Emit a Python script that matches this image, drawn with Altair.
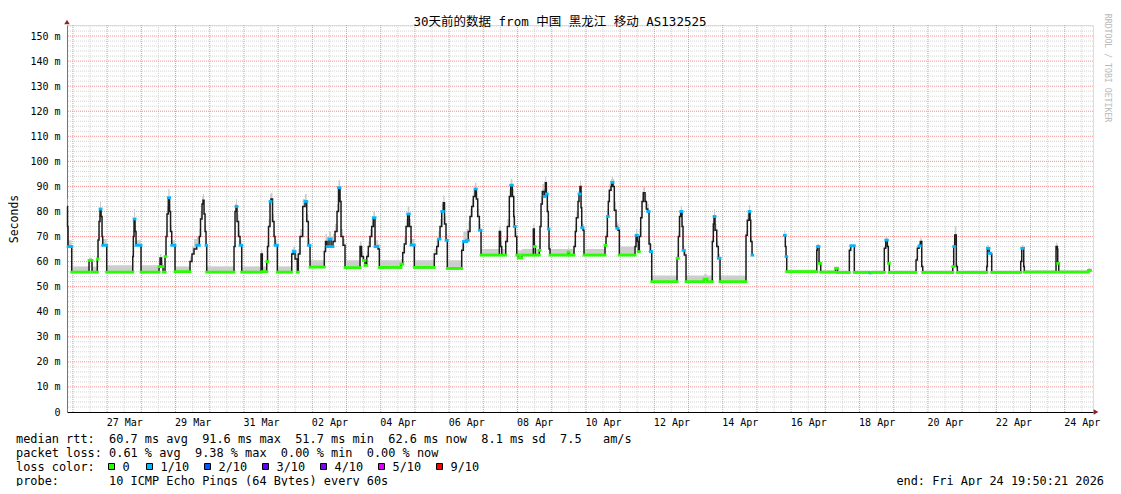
import altair as alt
import pandas as pd

# ---------------- data ----------------
# time: days since 2026-03-25 00:00 UTC ; values: median RTT in ms
T_DAYS = [
    0.828, 0.842, 0.857, 0.965, 1.471, 1.558, 1.713, 1.734, 1.763, 1.792,
    1.822, 1.851, 1.871, 1.988, 2.749, 2.766, 2.787, 2.816, 2.845, 2.991,
    3.518, 3.547, 3.591, 3.635, 3.693, 3.722, 3.751, 3.789, 3.825, 3.854,
    3.889, 3.985, 4.424, 4.482, 4.541, 4.620, 4.696, 4.731, 4.775, 4.804,
    4.833, 4.863, 4.892, 4.912, 5.711, 5.740, 5.769, 5.798, 5.842, 5.886,
    5.936, 6.500, 6.538, 6.667, 6.690, 6.719, 6.763, 6.792, 6.836, 6.880,
    6.909, 6.977, 7.398, 7.444, 7.494, 7.561, 7.591, 7.640, 7.719, 7.787,
    7.836, 7.883, 7.933, 8.351, 8.386, 8.430, 8.488, 8.547, 8.605, 8.664,
    8.722, 8.766, 8.810, 8.839, 8.898, 8.956, 9.395, 9.439, 9.491, 9.541,
    9.591, 9.637, 9.687, 9.737, 9.784, 9.833, 9.921, 9.959, 10.594, 10.643,
    10.690, 10.740, 10.789, 10.836, 10.886, 10.982, 11.567, 11.637, 11.684, 11.734,
    11.784, 11.830, 11.865, 11.909, 11.947, 12.368, 12.415, 12.515, 12.561, 12.611,
    12.661, 12.708, 12.757, 12.795, 12.836, 12.883, 12.933, 13.468, 13.503, 13.538,
    13.655, 13.702, 13.760, 13.801, 13.848, 13.889, 13.906, 13.936, 13.977, 14.023,
    14.123, 14.462, 14.491, 14.520, 14.637, 14.658, 14.687, 14.725, 14.775, 14.813,
    14.842, 14.871, 14.901, 14.921, 14.950, 15.477, 15.506, 15.652, 15.690, 15.719,
    15.769, 15.798, 15.827, 15.857, 15.877, 15.915, 15.944, 16.558, 16.588, 16.626,
    16.655, 16.684, 16.734, 16.754, 16.792, 16.830, 16.880, 16.901, 16.939, 16.977,
    17.436, 17.465, 17.503, 17.532, 17.561, 17.602, 17.640, 17.678, 17.728, 17.766,
    17.807, 17.845, 17.883, 17.924, 18.664, 18.702, 18.737, 18.772, 18.810, 18.839,
    18.877, 18.927, 19.453, 19.541, 19.696, 19.725, 19.746, 19.775, 19.825, 19.871,
    19.921, 20.681, 20.719, 20.769, 20.798, 20.819, 20.857, 20.877, 21.801, 21.830,
    21.851, 21.871, 22.749, 22.766, 22.816, 22.865, 23.298, 23.357, 23.702, 23.743,
    23.848, 24.307, 24.336, 24.725, 24.766, 24.813, 24.842, 24.871, 25.652, 25.690,
    25.740, 25.778, 25.819, 25.848, 26.725, 26.754, 26.784, 26.830, 26.860, 27.719,
    27.737, 27.787, 27.836, 27.865, 28.713, 28.743, 28.781, 28.801, 28.819, 29.746,
    29.784, 29.795, 29.825, 30.690, 30.754,
]

MEDIAN_MS = [
    82.0, 74.0, 66.0, 55.8, 60.5, 55.8, 61.0, 68.6, 76.0, 81.0,
    78.0, 70.0, 66.5, 55.8, 62.0, 70.0, 77.0, 72.0, 66.5, 55.8,
    58.0, 61.4, 58.0, 55.8, 62.0, 70.0, 79.0, 85.5, 80.0, 72.0,
    66.5, 56.0, 60.0, 63.0, 65.0, 66.5, 70.0, 77.0, 83.0, 84.5,
    79.0, 72.0, 66.5, 55.8, 66.0, 80.0, 82.0, 76.0, 70.0, 66.5,
    55.8, 63.0, 56.0, 60.0, 66.0, 74.0, 84.0, 85.0, 76.0, 70.0,
    66.5, 55.8, 63.0, 64.0, 61.0, 55.8, 63.0, 70.0, 82.0, 84.0,
    76.0, 66.5, 57.8, 64.0, 68.0, 66.0, 69.0, 66.0, 68.0, 72.0,
    80.0, 89.5, 84.0, 70.0, 66.5, 57.6, 66.0, 62.0, 60.5, 58.5,
    62.0, 66.0, 70.0, 74.0, 77.5, 66.0, 65.0, 57.7, 59.0, 63.5,
    67.0, 74.0, 79.0, 74.0, 66.6, 57.7, 63.0, 66.0, 69.0, 74.0,
    80.0, 83.5, 75.0, 68.5, 57.3, 64.5, 68.0, 68.5, 72.0, 78.0,
    82.0, 86.0, 89.0, 85.0, 78.0, 72.5, 62.6, 72.0, 66.0, 62.6,
    68.0, 74.0, 86.0, 90.5, 86.0, 78.0, 74.0, 70.0, 62.6, 61.5,
    62.6, 73.0, 66.0, 62.6, 64.5, 74.0, 83.0, 88.0, 86.0, 91.5,
    87.0, 80.0, 73.0, 65.0, 62.6, 63.8, 62.6, 66.0, 72.0, 77.5,
    84.0, 87.0, 90.0, 81.5, 73.5, 72.5, 62.6, 66.5, 70.0, 78.0,
    84.0, 88.5, 90.0, 91.6, 90.0, 80.5, 74.0, 73.3, 72.5, 62.6,
    66.0, 70.5, 68.0, 64.0, 70.0, 77.5, 84.0, 87.5, 84.0, 81.0,
    80.0, 67.0, 64.0, 52.0, 61.3, 70.0, 78.0, 80.0, 74.0, 64.5,
    62.6, 52.0, 53.0, 52.0, 68.0, 75.0, 78.0, 72.5, 66.0, 61.3,
    52.0, 70.5, 76.5, 80.0, 76.5, 68.0, 62.6, 62.6, 70.5, 66.0,
    62.0, 56.0, 64.5, 66.0, 59.3, 55.8, 57.3, 55.7, 64.5, 66.3,
    55.7, 55.5, 55.7, 65.3, 68.6, 66.0, 59.3, 55.7, 60.6, 65.3,
    66.3, 68.0, 58.0, 55.7, 58.0, 66.0, 70.6, 58.0, 55.7, 58.0,
    65.3, 63.3, 63.0, 55.7, 60.0, 65.3, 65.5, 58.0, 55.8, 66.0,
    65.0, 59.3, 55.8, 56.5, 56.5,
]

SMOKE_HI_MS = [
    85.0, 77.0, 68.5, 58.0, 61.5, 58.0, 62.5, 71.0, 79.0, 84.0,
    81.0, 72.5, 69.0, 58.5, 64.0, 72.5, 81.0, 74.5, 68.5, 58.5,
    59.5, 63.0, 59.5, 57.5, 64.0, 72.5, 82.0, 89.0, 83.0, 74.5,
    68.5, 58.0, 62.0, 66.0, 69.0, 70.0, 73.0, 80.0, 86.0, 87.0,
    82.0, 75.0, 69.0, 58.0, 68.0, 83.0, 85.0, 79.0, 72.5, 68.5,
    58.0, 64.5, 58.0, 62.0, 68.0, 77.0, 87.0, 87.5, 79.0, 72.5,
    68.5, 58.0, 65.0, 66.0, 63.0, 57.5, 65.0, 73.0, 85.0, 87.0,
    79.0, 69.0, 60.5, 66.0, 71.0, 70.0, 72.0, 70.0, 71.0, 75.0,
    83.0, 92.5, 87.0, 73.0, 69.0, 60.5, 68.0, 64.0, 62.0, 60.0,
    64.0, 68.0, 73.0, 77.0, 80.0, 68.5, 67.0, 60.5, 61.0, 66.0,
    70.0, 77.0, 82.0, 77.0, 69.0, 60.5, 65.0, 69.0, 72.0, 77.0,
    83.0, 86.5, 78.0, 71.0, 60.5, 67.0, 72.0, 73.0, 76.0, 81.0,
    85.0, 89.0, 91.5, 88.0, 81.0, 75.0, 65.0, 74.0, 68.0, 65.0,
    70.0, 77.0, 89.0, 93.0, 89.0, 81.0, 77.0, 72.0, 65.0, 64.5,
    65.0, 75.0, 68.0, 65.0, 67.0, 76.0, 86.0, 91.0, 89.0, 94.0,
    90.0, 83.0, 75.0, 67.0, 65.0, 65.5, 65.0, 68.0, 75.0, 80.0,
    87.0, 90.0, 92.5, 84.0, 76.0, 75.0, 65.0, 68.0, 72.0, 81.0,
    87.0, 91.0, 93.0, 94.0, 93.0, 84.0, 77.0, 76.0, 75.0, 66.0,
    68.0, 73.0, 70.0, 66.0, 73.0, 80.0, 87.0, 90.0, 87.0, 84.0,
    83.0, 70.0, 67.0, 54.5, 63.0, 72.0, 80.0, 82.0, 76.5, 66.5,
    64.0, 54.5, 55.0, 54.5, 70.0, 78.0, 81.0, 75.0, 68.0, 63.0,
    54.5, 72.5, 79.0, 82.5, 79.0, 70.0, 64.0, 64.0, 72.5, 68.0,
    63.5, 56.8, 65.5, 67.0, 60.0, 56.6, 58.0, 56.5, 65.5, 67.0,
    56.5, 56.3, 56.5, 66.5, 70.0, 67.0, 60.0, 56.5, 61.5, 66.5,
    67.5, 69.5, 59.0, 56.5, 59.0, 68.0, 74.0, 59.0, 56.5, 59.0,
    66.5, 64.5, 64.0, 56.5, 61.0, 66.5, 66.5, 59.0, 56.6, 67.5,
    66.0, 60.0, 56.6, 57.5, 57.0,
]

# g = no loss (green), c = 1/10 loss (cyan), k = dark rising/falling part
TONE = list(
    "kkcggggkkc" "kkcgkkckcg" "gkgggkkckk" "cgkkkckkkk" "kkcgkkckkc"
    "gkggkkckkk" "cgkckgkkkc" "kcgkkccckk" "kckkkgkkgg" "kkkkcckggk"
    "kkckcgkkck" "ckkcgkcckk" "kkckkcgkkg" "kkkckkckgg" "gkgggkkkck"
    "ckckgggkkk" "kckkckggkc" "kkkckkkckg" "kckgkkkkkk" "ckcggkkckc"
    "kgggkkckkc" "gkkckkckck" "cgkcggggkc" "gcgkckggkk" "ckkggckkgk"
    "cckgkckkgk" "kgggg"
)
GAP_AFTER_DAY = 21.0  # no data between the evening of 14 Apr and 15 Apr

LOSS_LABELS = ["0", "1/10", "2/10", "3/10", "4/10", "5/10", "9/10"]
LOSS_COLORS = ["#26ff00", "#00b8ff", "#0059ff", "#5e00ff", "#7e00ff", "#dd00ff", "#ff0000"]

Y_TICKS = list(range(0, 151, 10))
TITLE = "30天前的数据 from 中国 黑龙江 移动 AS132525"
LINE_MEDIAN = "median rtt:  60.7 ms avg  91.6 ms max  51.7 ms min  62.6 ms now  8.1 ms sd  7.5   am/s"
LINE_LOSS = "packet loss: 0.61 % avg  9.38 % max  0.00 % min  0.00 % now"
LINE_COLOR = "loss color:"
LINE_PROBE = "probe:       10 ICMP Echo Pings (64 Bytes) every 60s"
END_TEXT = "end: Fri Apr 24 19:50:21 2026"
SIDE_TEXT = "RRDTOOL / TOBI OETIKER"

assert len(T_DAYS) == len(MEDIAN_MS) == len(SMOKE_HI_MS) == len(TONE)

# ---------------- frames ----------------
EPOCH_MS = int(pd.Timestamp("2026-03-25T00:00:00Z").value // 10**6)
DAY_MS = 86_400_000
START_MS = EPOCH_MS + (19 * 3600 + 50 * 60 + 21) * 1000
END_MS = START_MS + 30 * DAY_MS
Y_TOP = 154.4
W, H = 1026, 387
LEFT, TOP = 67, 25  # page position of plot origin
MONO = "DejaVu Sans Mono"

df = pd.DataFrame({
    "t": [EPOCH_MS + d * DAY_MS for d in T_DAYS],
    "v": MEDIAN_MS,
    "hi": SMOKE_HI_MS,
    "tone": TONE,
    "seg": [0 if d < GAP_AFTER_DAY else 1 for d in T_DAYS],
})
nxt = df.groupby("seg")["t"].shift(-1)
over = df.assign(t2=nxt)
over = over[(over["tone"] != "k") & over["t2"].notna()].copy()

gx_major = pd.DataFrame({"t": [EPOCH_MS + d * DAY_MS for d in range(1, 31)]})
gx_minor = pd.DataFrame({"t": [EPOCH_MS + (d + 0.5) * DAY_MS for d in range(1, 31)]})
gy_major = pd.DataFrame({"v": list(range(10, 151, 10))})
gy_minor = pd.DataFrame({"v": [v for v in range(2, 155, 2) if v % 10]})

label_days = [EPOCH_MS + (d + 0.5) * DAY_MS for d in range(2, 31, 2)]

x_axis = alt.Axis(values=label_days, labelExpr="utcFormat(datum.value, '%d %b')",
                  labelFont=MONO, labelFontSize=10, labelColor="#000000", labelPadding=5,
                  ticks=False, tickSize=0, domainColor="#000000", domainWidth=1,
                  grid=False, labelOverlap=False, labelFlush=False, title=None)
y_axis = alt.Axis(values=Y_TICKS,
                  labelExpr="datum.value == 0 ? '0\u00a0\u00a0' : datum.value + ' m'",
                  labelFont=MONO, labelFontSize=10, labelColor="#000000", labelPadding=7,
                  ticks=False, tickSize=0, domainColor="#777777", domainWidth=1,
                  grid=False, labelOverlap=False, labelFlush=False, title=None)

X = alt.X("t:T", scale=alt.Scale(type="utc", domain=[START_MS, END_MS], nice=False), axis=x_axis)
Y = alt.Y("v:Q", scale=alt.Scale(domain=[0, Y_TOP], nice=False, zero=False), axis=y_axis)

MINOR = "#d4d4d4"
MAJOR = "#f19393"

layers = [
    alt.Chart(gy_minor).mark_rule(color=MINOR, strokeDash=[1, 1], strokeWidth=1).encode(y=Y),
    alt.Chart(gx_minor).mark_rule(color=MINOR, strokeDash=[1, 1], strokeWidth=1).encode(x=X),
    alt.Chart(gy_major).mark_rule(color=MAJOR, strokeDash=[1, 1], strokeWidth=1).encode(y=Y),
    alt.Chart(gx_major).mark_rule(color=MAJOR, strokeDash=[1, 1], strokeWidth=1).encode(x=X),
    alt.Chart(df).mark_area(interpolate="step-after", color="#cdcdcd", opacity=1).encode(
        x=X, y=Y, y2=alt.Y2("hi"), detail="seg:N"),
    alt.Chart(df).mark_line(interpolate="step-after", color="#1c1c1c", strokeWidth=1.5).encode(
        x=X, y=Y, detail="seg:N"),
    alt.Chart(over).mark_rule(strokeWidth=2.8, strokeCap="square").encode(
        x=X, x2=alt.X2("t2"), y=Y,
        color=alt.Color("tone:N", scale=alt.Scale(domain=["g", "c"], range=[LOSS_COLORS[0], LOSS_COLORS[1]]),
                        legend=None)),
]

one = pd.DataFrame({"a": [0]})


def text_at(s, px, py, **kw):
    return alt.Chart(pd.DataFrame({"s": [s]})).mark_text(**kw).encode(
        text="s:N", x=alt.value(px - LEFT), y=alt.value(py - TOP))


def nb(s):
    return s.replace(" ", "\u00a0")


# axis arrows
layers.append(alt.Chart(one).mark_point(shape="triangle-up", filled=True, size=30, color="#8b2525", opacity=1)
              .encode(x=alt.value(0), y=alt.value(-3)))
layers.append(alt.Chart(one).mark_point(shape="triangle-right", filled=True, size=30, color="#8b2525", opacity=1)
              .encode(x=alt.value(W + 3), y=alt.value(H)))

# title, axis title, side text
layers.append(text_at(TITLE, 560, 21.5, font=MONO + ", Noto Sans CJK SC", fontSize=12.5,
                      align="center", baseline="middle", color="#000000"))
layers.append(text_at("Seconds", 15, 219, font=MONO, fontSize=11.5, angle=270,
                      align="center", baseline="middle", color="#000000"))
layers.append(text_at(SIDE_TEXT, 1107, 68, font=MONO, fontSize=8.2, angle=90,
                      align="center", baseline="middle", color="#b9b9b9"))

# legend lines
ROW_Y = [442.5, 456.5, 470.5, 484.5]
for s, ry in zip([LINE_MEDIAN, LINE_LOSS, LINE_COLOR, LINE_PROBE], ROW_Y):
    layers.append(text_at(nb(s), 16, ry, font=MONO, fontSize=11.9, align="left",
                          baseline="alphabetic", color="#000000"))
layers.append(text_at(nb(END_TEXT), 1104, ROW_Y[3], font=MONO, fontSize=11.9, align="right",
                      baseline="alphabetic", color="#000000"))

label_x = [122.5] + [160.5 + 58 * i for i in range(6)]
for lab, col, lx in zip(LOSS_LABELS, LOSS_COLORS, label_x):
    layers.append(alt.Chart(one).mark_square(size=36, fill=col, stroke="#000000", strokeWidth=1,
                                             opacity=1, fillOpacity=1)
                  .encode(x=alt.value(lx - 11 - LEFT), y=alt.value(ROW_Y[2] - 4 - TOP)))
    layers.append(text_at(lab, lx, ROW_Y[2], font=MONO, fontSize=11.9, align="left",
                          baseline="alphabetic", color="#000000"))

chart = alt.layer(*layers).properties(
    width=W, height=H,
    padding={"left": 59, "top": 17, "right": 20, "bottom": 74},
    autosize=alt.AutoSizeParams(type="none"),
).configure_view(stroke=None).configure(background="#ffffff")

chart.save("out.html", embed_options={"renderer": "svg", "actions": False})
